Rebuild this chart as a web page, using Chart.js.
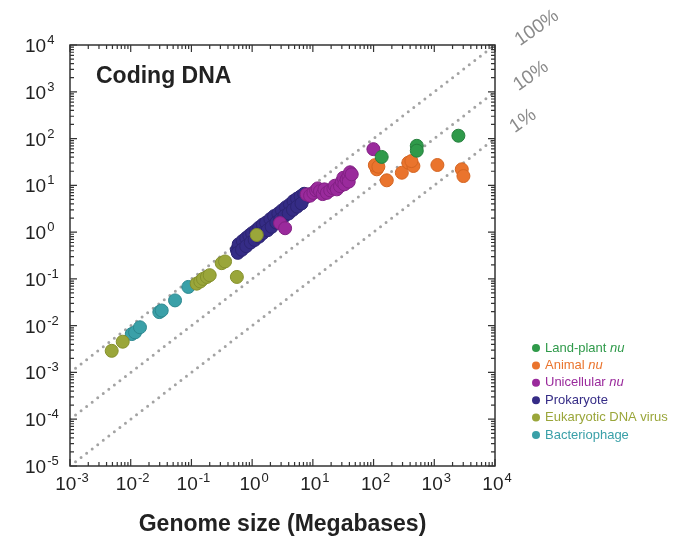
<!DOCTYPE html>
<html>
<head>
<meta charset="utf-8">
<script src="https://cdn.jsdelivr.net/npm/chart.js@4/dist/chart.umd.min.js"></script>
<style>
  html, body { margin: 0; padding: 0; background: #fff; }
  canvas { display: block; }
</style>
</head>
<body>
<canvas id="chart" width="689" height="542"></canvas>
<script>
// genome size (Mb) vs coding DNA (Mb)
const plantX = [136, 515, 515, 2495];
const plantY = [40.5, 70, 55, 115];

const animalX = [113, 105, 120, 165, 292, 374, 453, 420, 1125, 2838, 3020];
const animalY = [22, 27, 25, 12.8, 18.6, 30.5, 25.9, 33, 27.2, 22, 15.8];

const unicellX = [2.88, 3.49, 7.9, 9, 10.2, 11.3, 12, 13.1, 14.5, 15.5, 17, 19.3, 21.8, 23, 24.8, 28, 30, 31.8, 33, 36, 38.5, 39, 41, 43.7, 99.3];
const unicellY = [1.56, 1.21, 6.4, 6, 6.9, 7.8, 8.6, 7.5, 6.5, 8.2, 6.9, 7.8, 8.6, 9.8, 8.2, 9.6, 12, 14.5, 10.5, 13.4, 15.8, 12, 19, 17.2, 59.4];

const prokX = [0.56, 0.6, 0.62, 0.66, 0.7, 0.74, 0.8, 0.85, 0.9, 0.95, 1.0, 1.05, 1.1, 1.2, 1.25, 1.3, 1.4, 1.5, 1.55, 1.6,
               1.7, 1.8, 1.9, 2.0, 2.1, 2.3, 2.4, 2.6, 2.8, 3.0, 3.1, 3.3, 3.5, 3.8, 4.0, 4.3, 4.6, 5.0, 5.3, 5.6,
               6.0, 6.5, 7.0, 7.5, 8.0, 8.5, 9.0,
               0.6, 0.7, 0.8, 0.9, 1.0, 1.15, 1.3, 1.5, 1.7, 2.0, 2.3, 2.7, 3.1, 3.6, 4.2, 4.8, 5.5, 6.3, 7.2,
               0.58, 0.68, 0.8, 0.95, 1.1, 1.3, 1.5, 1.8, 2.1, 2.5, 2.9, 3.4, 4.0, 4.7, 5.5, 6.5];
const prokY = [0.42, 0.47, 0.40, 0.5, 0.55, 0.52, 0.62, 0.6, 0.7, 0.75, 0.72, 0.82, 0.8, 0.95, 0.88, 1.05, 1.1, 1.2, 1.05, 1.3,
               1.25, 1.45, 1.4, 1.6, 1.5, 1.8, 1.7, 2.0, 2.1, 2.4, 2.2, 2.6, 2.5, 2.9, 3.0, 3.3, 3.4, 3.8, 3.9, 4.3,
               4.5, 4.9, 5.3, 5.5, 6.0, 6.2, 6.4,
               0.55, 0.65, 0.75, 0.85, 0.95, 1.08, 1.25, 1.45, 1.6, 1.9, 2.2, 2.5, 2.9, 3.4, 3.9, 4.6, 5.2, 5.8, 6.6,
               0.36, 0.42, 0.5, 0.6, 0.68, 0.8, 0.95, 1.1, 1.3, 1.6, 1.85, 2.2, 2.5, 3.0, 3.5, 4.1];

const virusX = [0.00486, 0.00738, 0.122, 0.14, 0.155, 0.18, 0.2, 0.315, 0.358, 0.56, 1.19];
const virusY = [0.0029, 0.00454, 0.079, 0.088, 0.1, 0.11, 0.12, 0.217, 0.236, 0.11, 0.87];

const phageX = [0.0104, 0.0118, 0.0142, 0.0296, 0.0324, 0.0537, 0.0889];
const phageY = [0.00662, 0.0072, 0.00924, 0.0195, 0.0211, 0.0347, 0.0673];

// reference lines: coding fraction 100%, 10%, 1%
const lineX = [1e-3, 1e4];
const line100 = [1e-3, 1e4];
const line10 = [1e-4, 1e3];
const line1 = [1e-5, 1e2];
const lineLabels = ['100%', '10%', '1%'];

const legendLabels = [
    ['Land-plant ', 'nu'],
    ['Animal ', 'nu'],
    ['Unicellular ', 'nu'],
    ['Prokaryote', ''],
    ['Eukaryotic DNA virus', ''],
    ['Bacteriophage', '']
];

const colors = {
    plant: '#2f9a4a', animal: '#ea742d', unicell: '#9a2a9c',
    prok: '#352c86', virus: '#9aa63a', phage: '#3aa0a8'
};
const edges = {
    plant: '#267f3d', animal: '#d46522', unicell: '#822084',
    prok: '#2c2472', virus: '#85902c', phage: '#2c888f'
};
const legendColors = [colors.plant, colors.animal, colors.unicell, colors.prok, colors.virus, colors.phage];

function toPoints(xs, ys) {
    return xs.map((x, i) => ({ x: x, y: ys[i] }));
}

function dotSet(label, xs, ys, key, order) {
    return {
        label: label,
        data: toPoints(xs, ys),
        backgroundColor: colors[key],
        borderColor: edges[key],
        borderWidth: 1,
        pointRadius: 6.5,
        order: order
    };
}

function lineSet(ys) {
    return {
        data: toPoints(lineX, ys),
        showLine: true,
        pointRadius: 0,
        borderColor: '#a3a3a3',
        borderWidth: 3,
        borderDash: [0, 7],
        borderCapStyle: 'round',
        fill: false,
        order: 10
    };
}

function drawPow(ctx, exp, x, y, align) {
    // "10" with a raised exponent; y is the baseline of "10"
    ctx.font = '19px "Liberation Sans", Arial, sans-serif';
    const base = '10';
    const bw = ctx.measureText(base).width;
    ctx.font = '13px "Liberation Sans", Arial, sans-serif';
    const ew = ctx.measureText(String(exp)).width;
    let left = x;
    if (align === 'center') left = x - (bw + ew + 1) / 2;
    ctx.textAlign = 'left';
    ctx.textBaseline = 'alphabetic';
    ctx.font = '19px "Liberation Sans", Arial, sans-serif';
    ctx.fillText(base, left, y);
    ctx.font = '13px "Liberation Sans", Arial, sans-serif';
    ctx.fillText(String(exp), left + bw + 1, y - 8);
}

const framePlugin = {
    id: 'frame',
    afterDraw(chart) {
        const ctx = chart.ctx;
        const area = chart.chartArea;
        const xs = chart.scales.x;
        const ys = chart.scales.y;
        ctx.save();

        // box
        ctx.strokeStyle = '#333';
        ctx.lineWidth = 1.5;
        ctx.strokeRect(area.left, area.top, area.right - area.left, area.bottom - area.top);

        // inward ticks on all four sides
        ctx.lineWidth = 1.2;
        ctx.beginPath();
        for (let d = -3; d <= 4; d++) {
            for (let m = 1; m <= 9; m++) {
                const v = m * Math.pow(10, d);
                if (v > 1e4 * 1.0001) break;
                const px = xs.getPixelForValue(v);
                const len = m === 1 ? 7 : 4;
                ctx.moveTo(px, area.bottom); ctx.lineTo(px, area.bottom - len);
                ctx.moveTo(px, area.top); ctx.lineTo(px, area.top + len);
            }
        }
        for (let d = -5; d <= 4; d++) {
            for (let m = 1; m <= 9; m++) {
                const v = m * Math.pow(10, d);
                if (v > 1e4 * 1.0001) break;
                const py = ys.getPixelForValue(v);
                const len = m === 1 ? 7 : 4;
                ctx.moveTo(area.left, py); ctx.lineTo(area.left + len, py);
                ctx.moveTo(area.right, py); ctx.lineTo(area.right - len, py);
            }
        }
        ctx.stroke();

        // tick labels
        ctx.fillStyle = '#222';
        for (let d = -3; d <= 4; d++) {
            drawPow(ctx, d, xs.getPixelForValue(Math.pow(10, d)) + 2, area.bottom + 24, 'center');
        }
        for (let d = -5; d <= 4; d++) {
            drawPow(ctx, d, 25, ys.getPixelForValue(Math.pow(10, d)) + 7, 'left');
        }

        // panel title
        ctx.font = 'bold 23px "Liberation Sans", Arial, sans-serif';
        ctx.textAlign = 'left';
        ctx.textBaseline = 'alphabetic';
        ctx.fillStyle = '#222';
        ctx.fillText('Coding DNA', area.left + 26, area.top + 38);

        // percentage labels beyond the top-right corner
        const labelPos = [[537, 28], [531, 76], [523, 121]];
        ctx.fillStyle = '#8a8a8a';
        ctx.font = '19px "Liberation Sans", Arial, sans-serif';
        ctx.textAlign = 'center';
        ctx.textBaseline = 'middle';
        lineLabels.forEach((t, i) => {
            ctx.save();
            ctx.translate(labelPos[i][0], labelPos[i][1]);
            ctx.rotate(-35 * Math.PI / 180);
            ctx.fillText(t, 0, 0);
            ctx.restore();
        });

        // legend
        ctx.textAlign = 'left';
        ctx.textBaseline = 'middle';
        legendLabels.forEach((item, i) => {
            const y = 348 + i * 17.4;
            ctx.fillStyle = legendColors[i];
            ctx.beginPath();
            ctx.arc(536, y, 4, 0, Math.PI * 2);
            ctx.fill();
            ctx.font = '13px "Liberation Sans", Arial, sans-serif';
            ctx.fillText(item[0], 545, y);
            if (item[1]) {
                const w = ctx.measureText(item[0]).width;
                ctx.font = 'italic 13px "Liberation Sans", Arial, sans-serif';
                ctx.fillText(item[1], 545 + w, y);
            }
        });

        ctx.restore();
    }
};

new Chart(document.getElementById('chart').getContext('2d'), {
    type: 'scatter',
    data: {
        datasets: [
            dotSet('Land-plant nu', plantX, plantY, 'plant', 1),
            dotSet('Animal nu', animalX, animalY, 'animal', 2),
            dotSet('Unicellular nu', unicellX, unicellY, 'unicell', 1),
            dotSet('Prokaryote', prokX, prokY, 'prok', 3),
            dotSet('Eukaryotic DNA virus', virusX, virusY, 'virus', 1),
            dotSet('Bacteriophage', phageX, phageY, 'phage', 2),
            lineSet(line100),
            lineSet(line10),
            lineSet(line1)
        ]
    },
    options: {
        responsive: false,
        animation: false,
        layout: { padding: { left: 0, right: 194, top: 45, bottom: 0 } },
        plugins: {
            legend: { display: false },
            tooltip: { enabled: false }
        },
        scales: {
            x: {
                type: 'logarithmic',
                min: 1e-3,
                max: 1e4,
                ticks: { display: false },
                grid: { display: false },
                border: { display: false },
                title: {
                    display: true,
                    text: 'Genome size (Megabases)',
                    color: '#222',
                    font: { family: '"Liberation Sans", Arial, sans-serif', size: 23, weight: 'bold' },
                    padding: { top: 0, bottom: 4 }
                },
                afterFit(scale) { scale.height = 76; }
            },
            y: {
                type: 'logarithmic',
                min: 1e-5,
                max: 1e4,
                ticks: { display: false },
                grid: { display: false },
                border: { display: false },
                afterFit(scale) { scale.width = 70; }
            }
        }
    },
    plugins: [framePlugin]
});
</script>
</body>
</html>
